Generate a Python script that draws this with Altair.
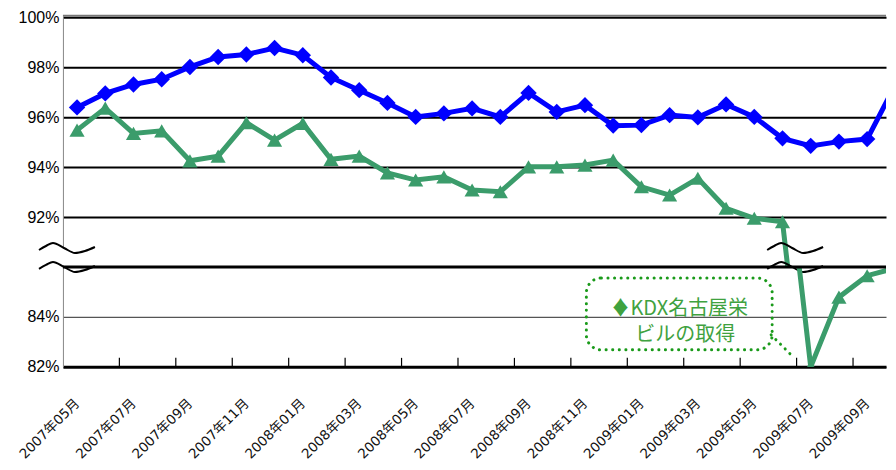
import json
import altair as alt
import pandas as pd

# ---------------- data ----------------
months = ["2007年05月", "2007年06月", "2007年07月", "2007年08月", "2007年09月", "2007年10月",
          "2007年11月", "2007年12月", "2008年01月", "2008年02月", "2008年03月", "2008年04月",
          "2008年05月", "2008年06月", "2008年07月", "2008年08月", "2008年09月", "2008年10月",
          "2008年11月", "2008年12月", "2009年01月", "2009年02月", "2009年03月", "2009年04月",
          "2009年05月", "2009年06月", "2009年07月", "2009年08月", "2009年09月", "2009年10月"]

blue_series = [96.39, 96.95, 97.31, 97.52, 98.01, 98.41, 98.51, 98.77, 98.48, 97.59,
               97.08, 96.57, 96.01, 96.15, 96.35, 96.01, 96.97, 96.21, 96.48, 95.66,
               95.68, 96.08, 95.99, 96.51, 96.01, 95.15, 94.85, 95.02, 95.12, 97.30]

green_series = [95.48, 96.36, 95.35, 95.45, 94.25, 94.44, 95.78, 95.08, 95.75, 94.31,
                94.44, 93.77, 93.48, 93.61, 93.08, 93.01, 94.01, 94.01, 94.08, 94.28,
                93.21, 92.88, 93.55, 92.35, 91.95, 91.81, 82.00, 84.79, 85.65, 85.95]

upper_ticks = [92, 94, 96, 98, 100]
lower_ticks = [82, 84]
label_months = list(range(0, 29, 2))
annotation_lines = ["♦KDX名古屋栄", "ビルの取得"]

# ---------------- helpers ----------------
X0, BAND = 77.1, 28.25          # reference pixel of month 0 and px per month
W = 824
X_DOMAIN = [-0.5, -0.5 + W / BAND]
BLUE = "#0000FF"
GREEN = "#3B9C6B"
ANN_GREEN = "#1A9A1A"
TEXT_GREEN = "#3FA23F"

def px_to_x(px):
    return (px - X0) / BAND

def py_to_top(py):
    return 100 - (py - 17) / 25

def py_to_bot(py):
    return 86 - (py - 267) / 25

df = pd.DataFrame({"i": list(range(len(months))), "month": months,
                   "blue": blue_series, "green": green_series})
long = df.melt(id_vars=["i", "month"], value_vars=["blue", "green"],
               var_name="series", value_name="v")
blue_df = long[long.series == "blue"]
green_df = long[long.series == "green"]

xscale = alt.Scale(domain=X_DOMAIN, nice=False, zero=False)
ytop_scale = alt.Scale(domain=[90, 100], nice=False, zero=False)
ybot_scale = alt.Scale(domain=[82, 86], nice=False, zero=False)

ylab = dict(labelFont="Liberation Sans", labelFontSize=16, labelColor="black",
            labelPadding=4, ticks=False, domainColor="#888888", domainWidth=1,
            minExtent=50, maxExtent=50, title=None)

top_y_axis = alt.Axis(values=upper_ticks, labelExpr="datum.value + '%'", grid=True,
                      gridColor="black", gridWidth=2, **ylab)
bot_y_axis = alt.Axis(values=lower_ticks, labelExpr="datum.value + '%'", grid=True,
                      gridColor="#555555", gridWidth=1.3, **ylab)

months_js = json.dumps(months, ensure_ascii=False)
x_axis = alt.Axis(values=label_months, labelExpr=f"{months_js}[datum.value]",
                  labelAngle=315, labelAlign="right", labelBaseline="middle",
                  labelPadding=34, labelFont="DejaVu Sans, Noto Sans CJK JP",
                  labelFontSize=13.5,
                  labelColor="#111111", ticks=False, grid=False, domainColor="black",
                  domainWidth=3, labelOverlap=False, labelFlush=False, title=None)


def series_layers(yscale, yaxis, xaxis):
    if xaxis is None:
        x = alt.X("i:Q", scale=xscale, axis=None)
    else:
        x = alt.X("i:Q", scale=xscale, axis=xaxis)
    y = alt.Y("v:Q", scale=yscale, axis=yaxis)
    g_line = alt.Chart(green_df).mark_line(color=GREEN, strokeWidth=5, clip=True).encode(x=x, y=y)
    g_pts = alt.Chart(green_df).mark_point(shape="triangle-up", filled=True, size=230,
                                           color=GREEN, opacity=1, clip=True).encode(x=x, y=y)
    b_line = alt.Chart(blue_df).mark_line(color=BLUE, strokeWidth=5, clip=True).encode(x=x, y=y)
    b_pts = alt.Chart(blue_df).mark_point(shape="diamond", filled=True, size=270,
                                          color=BLUE, opacity=1, clip=True).encode(x=x, y=y)
    return [g_line, g_pts, b_line, b_pts]

# ---------------- break symbols (top panel) ----------------
wave_dx = [0, 7, 14, 25, 36, 46, 56]
wave_dy = [2, -2, -5, 0, 5, 3, -1]
rows = []
for side, base in [("L", 39), ("R", 768)]:
    for k, (dx, dy) in enumerate(zip(wave_dx, wave_dy)):
        rows.append({"side": side, "k": k, "x": px_to_x(base + dx),
                     "up": py_to_top(248 + dy), "lo": py_to_top(267 + dy)})
wave = pd.DataFrame(rows)
wave_long = wave.melt(id_vars=["side", "k", "x"], value_vars=["up", "lo"],
                      var_name="part", value_name="v")
wave_long["grp"] = wave_long["side"] + wave_long["part"]
wave_fill_df = wave[wave.side == "L"].rename(columns={"up": "v", "lo": "v2"})

wx = alt.X("x:Q", scale=xscale, axis=None)
wave_fill = alt.Chart(wave_fill_df).mark_area(
    color="white", interpolate="monotone", clip=False).encode(
    x=wx, y=alt.Y("v:Q", scale=ytop_scale), y2="v2:Q")
wave_lines = alt.Chart(wave_long).mark_line(
    color="black", strokeWidth=2, interpolate="monotone", clip=False).encode(
    x=wx, y=alt.Y("v:Q", scale=ytop_scale), detail="grp:N", order="k:Q")

top_top_line = alt.Chart(pd.DataFrame({"v": [100]})).mark_rule(
    color="#777777", strokeWidth=2, yOffset=-1.5).encode(
    y=alt.Y("v:Q", scale=ytop_scale))

top = alt.layer(*series_layers(ytop_scale, top_y_axis, None),
                wave_fill, wave_lines, top_top_line).properties(width=W, height=250)

# ---------------- bottom panel ----------------
break_rule = alt.Chart(pd.DataFrame({"v": [86]})).mark_rule(
    color="black", strokeWidth=3).encode(y=alt.Y("v:Q", scale=ybot_scale))

tick_df = pd.DataFrame({"i": [i + 1.5 for i in range(0, 28, 2)],
                        "v": [82.0] * 14, "v2": [82.36] * 14})
tick_rules = alt.Chart(tick_df).mark_rule(color="black", strokeWidth=1.2).encode(
    x=alt.X("i:Q", scale=xscale),
    y=alt.Y("v:Q", scale=ybot_scale), y2="v2:Q")

box_df = pd.DataFrame({"i": [px_to_x(587)], "i2": [px_to_x(773)],
                       "v": [py_to_bot(278)], "v2": [py_to_bot(350)]})
box = alt.Chart(box_df).mark_rect(
    cornerRadius=15, fillOpacity=0, stroke=ANN_GREEN, strokeWidth=3,
    strokeDash=[0.1, 6.5], strokeCap="round", clip=False).encode(
    x=alt.X("i:Q", scale=xscale), x2="i2:Q",
    y=alt.Y("v:Q", scale=ybot_scale), y2="v2:Q")

tail_df = pd.DataFrame({"i": [px_to_x(772)], "i2": [px_to_x(795)],
                        "v": [py_to_bot(335)], "v2": [py_to_bot(358)]})
tail = alt.Chart(tail_df).mark_rule(
    stroke=ANN_GREEN, strokeWidth=3, strokeDash=[0.1, 6.5], strokeCap="round").encode(
    x=alt.X("i:Q", scale=xscale), x2="i2:Q",
    y=alt.Y("v:Q", scale=ybot_scale), y2="v2:Q")

text_df = pd.DataFrame({"t": annotation_lines,
                        "i": [px_to_x(680), px_to_x(686)],
                        "v": [py_to_bot(309), py_to_bot(335)]})
ann_text = alt.Chart(text_df).mark_text(
    font="Noto Sans CJK JP", fontSize=20, color=TEXT_GREEN, align="center",
    baseline="middle").encode(
    x=alt.X("i:Q", scale=xscale),
    y=alt.Y("v:Q", scale=ybot_scale), text="t:N")

bottom = alt.layer(*series_layers(ybot_scale, bot_y_axis, x_axis),
                   break_rule, tick_rules, box, tail, ann_text).properties(width=W, height=100)

chart = alt.vconcat(top, bottom, spacing=0, bounds="flush").properties(
    padding={"left": 5, "top": 1, "right": 0, "bottom": 0},
    background="white").configure_view(stroke=None)

chart.save("out.html", embed_options={"renderer": "svg", "actions": False})
